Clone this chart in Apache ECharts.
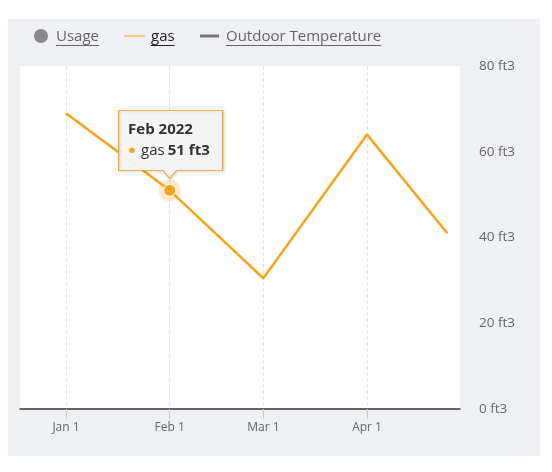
<!DOCTYPE html>
<html>
<head>
<meta charset="utf-8">
<script src="https://cdn.jsdelivr.net/npm/echarts@6/dist/echarts.min.js"></script>
<style>
  html, body { margin: 0; padding: 0; background: #fff; }
  #chart { width: 552px; height: 472px; }
</style>
</head>
<body>
<div id="chart"></div>
<script>
// data
const gasDates = ['2022-01-01', '2022-02-01', '2022-03-01', '2022-04-01', '2022-04-25'];
const gasValues = [69, 51, 30.5, 64, 41];
const tickDates = ['2022-01-01', '2022-02-01', '2022-03-01', '2022-04-01'];
const tickLabels = ['Jan 1', 'Feb 1', 'Mar 1', 'Apr 1'];
const legendNames = ['Usage', 'gas', 'Outdoor Temperature'];
const yTicks = [0, 20, 40, 60, 80];
const unit = 'ft3';
const tipIndex = 1; // point with the tooltip

const monthNames = ['Jan', 'Feb', 'Mar', 'Apr', 'May', 'Jun', 'Jul', 'Aug', 'Sep', 'Oct', 'Nov', 'Dec'];
const orange = '#f6a31e';

// 'YYYY-MM-DD' -> utc timestamp
function toTime(s) {
  const p = s.split('-');
  return Date.UTC(+p[0], +p[1] - 1, +p[2]);
}

const gasData = gasDates.map((d, i) => [toTime(d), gasValues[i]]);
const tickTimes = tickDates.map(toTime);
const xMin = Date.UTC(2021, 11, 18, 6);
const xMax = Date.UTC(2022, 3, 28, 19);

// text width for legend underlines
const ctx = document.createElement('canvas').getContext('2d');
function textWidth(t, font) {
  ctx.font = font;
  return ctx.measureText(t).width;
}

const legendFont = '15px "Open Sans"';
const legendY = 37;
// legend: icon + underlined text
function legendItem(x, name, color, icon) {
  const w = textWidth(name, legendFont);
  return [
    icon,
    {
      type: 'text', left: x, top: legendY - 8,
      style: { text: name, fill: color, font: legendFont }
    },
    {
      type: 'line', shape: { x1: x, y1: legendY + 8.5, x2: x + w, y2: legendY + 8.5 },
      style: { stroke: color, lineWidth: 1 }
    }
  ];
}

const graphic = [].concat(
  [{
    type: 'rect', z: -10, silent: true,
    shape: { x: 8, y: 19, width: 532, height: 437 },
    style: { fill: '#eff0f4' }
  }],
  legendItem(56, legendNames[0], '#666',
    { type: 'circle', shape: { cx: 41, cy: legendY - 1, r: 7 }, style: { fill: '#888' } }),
  legendItem(151, legendNames[1], '#222',
    { type: 'line', shape: { x1: 124, y1: legendY - 1, x2: 145, y2: legendY - 1 }, style: { stroke: orange, lineWidth: 1 } }),
  legendItem(226, legendNames[2], '#666',
    { type: 'line', shape: { x1: 200, y1: legendY - 1, x2: 219, y2: legendY - 1 }, style: { stroke: '#777', lineWidth: 3 } })
);

const tipPoint = gasData[tipIndex];
const tipDate = new Date(tipPoint[0]);
const tipTitle = monthNames[tipDate.getUTCMonth()] + ' ' + tipDate.getUTCFullYear();

const chart = echarts.init(document.getElementById('chart'));
chart.setOption({
  animation: false,
  graphic: graphic,
  grid: {
    left: 20, right: 92, top: 66, bottom: 63,
    show: true, backgroundColor: '#fff', borderWidth: 0
  },
  xAxis: {
    type: 'value',
    min: xMin,
    max: xMax,
    axisLine: { lineStyle: { color: '#333', width: 1.5 } },
    axisTick: { show: true, customValues: tickTimes, length: 10, lineStyle: { color: '#c3d0e6' } },
    axisLabel: {
      customValues: tickTimes,
      color: '#666',
      fontSize: 12,
      fontFamily: 'Open Sans',
      margin: 13,
      formatter: function (v) {
        const i = tickTimes.indexOf(v);
        return i >= 0 ? tickLabels[i] : '';
      }
    },
    splitLine: { show: true, lineStyle: { color: '#e3e3e3', type: 'dashed', width: 1 } }
  },
  yAxis: {
    type: 'value',
    position: 'right',
    min: yTicks[0],
    max: yTicks[yTicks.length - 1],
    interval: yTicks[1] - yTicks[0],
    axisLine: { show: false },
    axisTick: { show: false },
    splitLine: { show: false },
    axisLabel: {
      color: '#666',
      fontSize: 13.5,
      fontFamily: 'Open Sans',
      margin: 19,
      formatter: '{value} ' + unit
    }
  },
  series: [{
    name: legendNames[1],
    type: 'line',
    data: gasData,
    showSymbol: false,
    lineStyle: { color: orange, width: 2.5 },
    itemStyle: { color: orange },
    markPoint: {
      silent: true,
      data: [
        {
          coord: tipPoint, symbol: 'circle', symbolSize: 22,
          itemStyle: { color: orange, opacity: 0.25 }, label: { show: false }
        },
        {
          coord: tipPoint, symbol: 'circle', symbolSize: 12,
          itemStyle: { color: orange, borderColor: '#fff', borderWidth: 1 }, label: { show: false }
        },
        {
          coord: tipPoint,
          symbol: 'path://M0,0H104V60H58L51,68L44,60H0Z',
          symbolSize: [104, 68],
          symbolOffset: [1, -46],
          itemStyle: {
            color: 'rgba(247,247,247,0.95)', borderColor: orange, borderWidth: 1,
            shadowBlur: 3, shadowOffsetX: 1, shadowOffsetY: 1, shadowColor: 'rgba(0,0,0,0.15)'
          },
          label: {
            show: true,
            position: [10, 9],
            align: 'left',
            verticalAlign: 'top',
            fontFamily: 'Open Sans',
            formatter: '{t|' + tipTitle + '}\n{d|●} {n|' + legendNames[1] + '} {b|' + tipPoint[1] + ' ' + unit + '}',
            rich: {
              t: { fontSize: 15, fontWeight: 'bold', color: '#333', lineHeight: 21, fontFamily: 'Open Sans' },
              d: { fontSize: 13, color: orange, lineHeight: 21, padding: [0, 2, 0, 0] },
              n: { fontSize: 15, color: '#333', lineHeight: 21, fontFamily: 'Open Sans' },
              b: { fontSize: 15, fontWeight: 'bold', color: '#333', lineHeight: 21, fontFamily: 'Open Sans' }
            }
          }
        }
      ]
    }
  }]
});
</script>
</body>
</html>
